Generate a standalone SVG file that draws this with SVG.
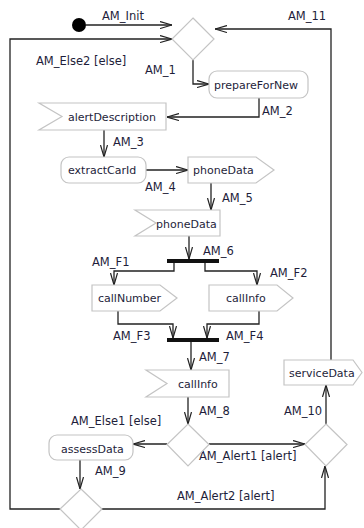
<svg xmlns="http://www.w3.org/2000/svg" width="364" height="528" viewBox="0 0 364 528">
  <style>
    text { font-family: "DejaVu Sans", Verdana, sans-serif; font-size: 11px; fill: #1e1e3a; }
    #labels text { font-size: 11.5px; }
    .node { fill: #ffffff; stroke: #c4c4c4; stroke-width: 1.2; }
    .edge { fill: none; stroke: #222222; stroke-width: 1.3; marker-end: url(#arr); }
    .bar { fill: #111111; }
  </style>
  <defs>
    <marker id="arr" viewBox="0 0 12 8" refX="12" refY="4" markerWidth="12" markerHeight="8" orient="auto" markerUnits="userSpaceOnUse">
      <path d="M0,0.5 L12,4 L0,7.5" fill="none" stroke="#222222" stroke-width="1.2"/>
    </marker>
  </defs>

  <!-- connectors -->
  <g id="connectors">
    <path class="edge" d="M86,25 H172"/>
    <path class="edge" d="M60,509 H10 V39 H172"/>
    <path class="edge" d="M331,360 V29 H215"/>
    <path class="edge" d="M193,60 V84 H209"/>
    <path class="edge" d="M259,98 V117 H167"/>
    <path class="edge" d="M104,130 V157"/>
    <path class="edge" d="M146,170 H188"/>
    <path class="edge" d="M211,182 V210"/>
    <path class="edge" d="M189,236 V259"/>
    <path class="edge" d="M174,263 V271 H114 V285"/>
    <path class="edge" d="M205,263 V271 H257 V285"/>
    <path class="edge" d="M118,311 V324 H173 V338"/>
    <path class="edge" d="M259,311 V324 H207 V338"/>
    <path class="edge" d="M191,342 V370"/>
    <path class="edge" d="M188,397 V424"/>
    <path class="edge" d="M167,444 H133"/>
    <path class="edge" d="M209,444 H305"/>
    <path class="edge" d="M80,460 V489"/>
    <path class="edge" d="M102,509 H325 V466"/>
    <path class="edge" d="M326,425 V385"/>
  </g>

  <!-- connector labels -->
  <g id="labels">
    <text x="102" y="20">AM_Init</text>
    <text x="288" y="20">AM_11</text>
    <text x="36" y="65">AM_Else2 [else]</text>
    <text x="145" y="74">AM_1</text>
    <text x="262" y="115">AM_2</text>
    <text x="113" y="146">AM_3</text>
    <text x="145" y="191">AM_4</text>
    <text x="222" y="202">AM_5</text>
    <text x="203" y="255">AM_6</text>
    <text x="92" y="266">AM_F1</text>
    <text x="270" y="277">AM_F2</text>
    <text x="113" y="340">AM_F3</text>
    <text x="226" y="340">AM_F4</text>
    <text x="199" y="361">AM_7</text>
    <text x="199" y="415">AM_8</text>
    <text x="284" y="415">AM_10</text>
    <text x="71" y="425">AM_Else1 [else]</text>
    <text x="199" y="460">AM_Alert1 [alert]</text>
    <text x="95" y="475">AM_9</text>
    <text x="177" y="500">AM_Alert2 [alert]</text>
  </g>

  <g id="initial">
    <circle cx="79" cy="25" r="7" fill="#000000"/>
  </g>

  <g id="decision1">
    <polygon class="node" points="193,18 214,39 193,60 172,39"/>
  </g>

  <g id="prepareForNew">
    <rect class="node" x="209" y="71" width="99" height="27" rx="8"/>
    <text x="214" y="89">prepareForNew</text>
  </g>

  <g id="alertDescription">
    <polygon class="node" points="39,103 166,103 166,130 39,130 62,116.5"/>
    <text x="68" y="121">alertDescription</text>
  </g>

  <g id="extractCarId">
    <rect class="node" x="61" y="157" width="85" height="26" rx="8"/>
    <text x="68" y="174">extractCarId</text>
  </g>

  <g id="phoneDataSend">
    <polygon class="node" points="188,157 256,157 274,170 256,183 188,183"/>
    <text x="193" y="174">phoneData</text>
  </g>

  <g id="phoneDataReceive">
    <polygon class="node" points="135,210 220,210 220,236 135,236 156,223"/>
    <text x="156" y="228">phoneData</text>
  </g>

  <g id="fork">
    <rect class="bar" x="167" y="259" width="52" height="4"/>
  </g>

  <g id="callNumber">
    <polygon class="node" points="92,285 160,285 177,298 160,311 92,311"/>
    <text x="98" y="302">callNumber</text>
  </g>

  <g id="callInfoSend">
    <polygon class="node" points="209,285 277,285 293,298 277,311 209,311"/>
    <text x="226" y="302">callInfo</text>
  </g>

  <g id="join">
    <rect class="bar" x="167" y="338" width="52" height="4"/>
  </g>

  <g id="callInfoReceive">
    <polygon class="node" points="146,370 229,370 229,397 146,397 167,383.5"/>
    <text x="178" y="388">callInfo</text>
  </g>

  <g id="decision2">
    <polygon class="node" points="188,424 209,444.5 188,466 167,444.5"/>
  </g>

  <g id="assessData">
    <rect class="node" x="49" y="435" width="84" height="25" rx="8"/>
    <text x="61" y="453">assessData</text>
  </g>

  <g id="decision3">
    <polygon class="node" points="326,424 347,444.5 326,466 305,444.5"/>
  </g>

  <g id="serviceData">
    <polygon class="node" points="284,360 353,360 362,372.5 353,385 284,385"/>
    <text x="289" y="377">serviceData</text>
  </g>

  <g id="decision4">
    <polygon class="node" points="81,489 102,509 81,530 60,509"/>
  </g>
</svg>
